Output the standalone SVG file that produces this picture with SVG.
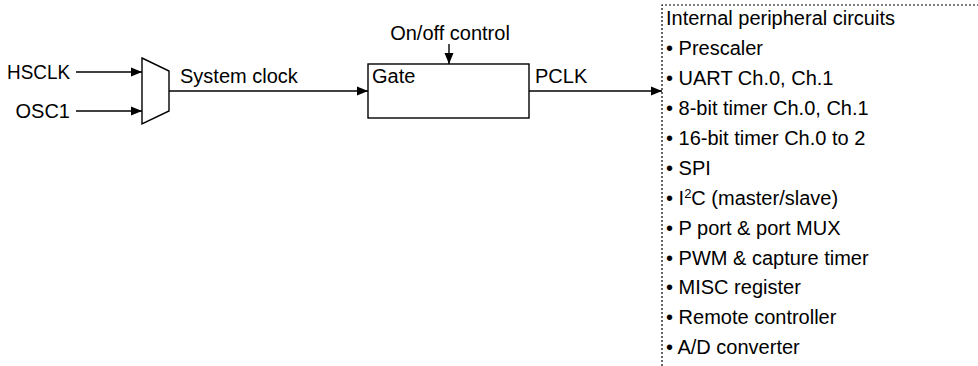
<svg xmlns="http://www.w3.org/2000/svg" width="978" height="366" viewBox="0 0 978 366">
<style>
text{font-family:"Liberation Sans",Arial,Helvetica,sans-serif;font-size:20px;fill:#000}
.ln{stroke:#000;stroke-width:1.4;fill:none}
.box{stroke:#000;stroke-width:1.4;fill:#fff}
.dot{stroke:#000;stroke-width:1.2;fill:none;stroke-dasharray:2,2}
</style>
<defs>
<marker id="ah" viewBox="0 0 11 10" refX="11" refY="5" markerWidth="11" markerHeight="10" markerUnits="userSpaceOnUse" orient="auto">
<path d="M0,0.5 L11,5 L0,9.5 Z" fill="#000"/>
</marker>
</defs>
<g id="connectors">
<line class="ln" x1="76" y1="72" x2="142" y2="72" marker-end="url(#ah)"/>
<line class="ln" x1="76" y1="111" x2="142" y2="111" marker-end="url(#ah)"/>
<line class="ln" x1="169" y1="91" x2="368" y2="91" marker-end="url(#ah)"/>
<line class="ln" x1="449" y1="44" x2="449" y2="64" marker-end="url(#ah)"/>
<line class="ln" x1="529" y1="91" x2="662" y2="91" marker-end="url(#ah)"/>
</g>
<g id="hsclk"><text x="70" y="79" text-anchor="end" textLength="63" lengthAdjust="spacingAndGlyphs">HSCLK</text></g>
<g id="osc1"><text x="70" y="118" text-anchor="end">OSC1</text></g>
<g id="mux"><polygon class="box" points="142,58 169,71 169,111 142,124"/></g>
<g id="sysclk-label"><text x="180" y="83">System clock</text></g>
<g id="gate">
<rect class="box" x="368" y="64" width="161" height="54"/>
<text x="372" y="83">Gate</text>
</g>
<g id="onoff"><text x="450" y="40" text-anchor="middle">On/off control</text></g>
<g id="pclk-label"><text x="535" y="83">PCLK</text></g>
<g id="peripherals">
<path class="dot" d="M662,366 L662,5 L978,5"/>
<text x="666" y="25">Internal peripheral circuits</text>
<text x="666" y="55">• Prescaler</text>
<text x="666" y="85">• UART Ch.0, Ch.1</text>
<text x="666" y="115">• 8-bit timer Ch.0, Ch.1</text>
<text x="666" y="145">• 16-bit timer Ch.0 to 2</text>
<text x="666" y="175">• SPI</text>
<text x="666" y="205">• I<tspan font-size="13" dy="-7">2</tspan><tspan dy="7">C (master/slave)</tspan></text>
<text x="666" y="235">• P port &amp; port MUX</text>
<text x="666" y="265">• PWM &amp; capture timer</text>
<text x="666" y="294">• MISC register</text>
<text x="666" y="324">• Remote controller</text>
<text x="666" y="354">• A/D converter</text>
</g>
</svg>
